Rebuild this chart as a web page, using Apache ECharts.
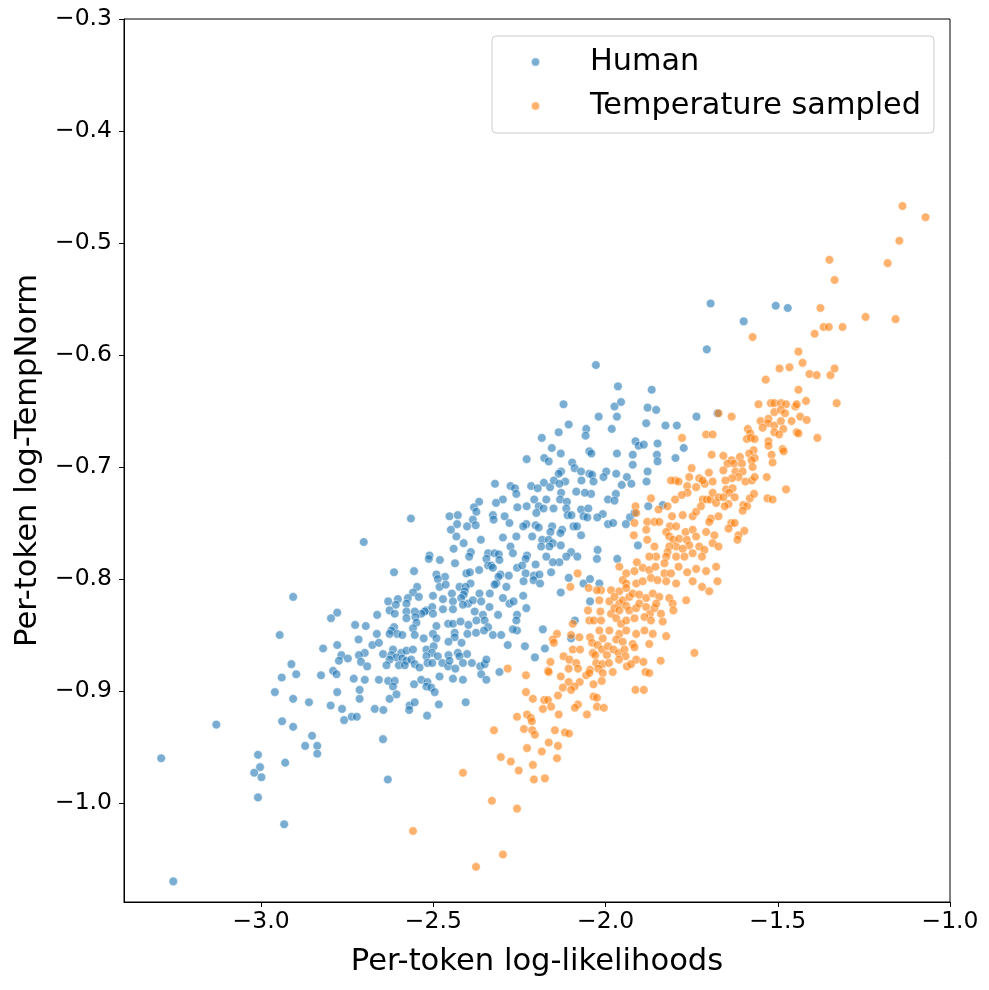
<!DOCTYPE html>
<html>
<head>
<meta charset="utf-8">
<script src="https://cdn.jsdelivr.net/npm/echarts@6/dist/echarts.min.js"></script>
<style>
html,body{margin:0;padding:0;background:#fff;}
#chart{width:989px;height:990px;}
</style>
</head>
<body>
<div id="chart"></div>
<script>
var seriesNames = ['Human', 'Temperature sampled'];
var xTicks = [-3.0, -2.5, -2.0, -1.5, -1.0];
var yTicks = [-1.0, -0.9, -0.8, -0.7, -0.6, -0.5, -0.4, -0.3];
var xLabel = 'Per-token log-likelihoods';
var yLabel = 'Per-token log-TempNorm';

var humanPoints = [
[-2.321,-0.715],[-2.276,-0.717],[-2.263,-0.719],[-2.259,-0.724],[-2.298,-0.729],[-2.318,-0.732],[-2.367,-0.731],[-2.382,-0.736],[-2.375,-0.740],[-2.256,-0.736],[-2.327,-0.743],[-2.293,-0.744],[-2.453,-0.744],[-2.429,-0.743],[-2.565,-0.746],[-2.385,-0.747],[-2.325,-0.747],[-2.431,-0.751],[-2.402,-0.753],[-2.377,-0.752],[-2.279,-0.750],[-2.449,-0.756],[-2.433,-0.762],[-2.362,-0.765],[-2.298,-0.763],[-2.259,-0.762],[-2.702,-0.767],[-2.412,-0.768],[-2.276,-0.771],[-2.441,-0.773],[-2.391,-0.776],[-2.341,-0.777],[-2.322,-0.777],[-2.310,-0.778],[-2.269,-0.777],[-2.511,-0.779],[-2.513,-0.782],[-2.481,-0.783],[-2.396,-0.780],[-2.308,-0.783],[-2.346,-0.782],[-2.437,-0.786],[-2.341,-0.788],[-2.332,-0.788],[-2.327,-0.790],[-2.367,-0.792],[-2.257,-0.790],[-2.556,-0.793],[-2.614,-0.794],[-2.491,-0.796],[-2.404,-0.795],[-2.394,-0.794],[-2.305,-0.796],[-2.311,-0.798],[-2.281,-0.797],[-2.466,-0.798],[-2.487,-0.800],[-2.482,-0.807],[-2.464,-0.805],[-2.424,-0.807],[-2.392,-0.804],[-2.406,-0.807],[-2.317,-0.804],[-2.288,-0.807],[-2.547,-0.807],[-2.322,-0.805],[-2.559,-0.812],[-2.542,-0.816],[-2.501,-0.815],[-2.446,-0.813],[-2.409,-0.811],[-2.412,-0.814],[-2.366,-0.813],[-2.336,-0.813],[-2.472,-0.818],[-2.443,-0.820],[-2.419,-0.817],[-2.399,-0.822],[-2.385,-0.819],[-2.361,-0.820],[-2.298,-0.817],[-2.279,-0.822],[-2.267,-0.820],[-2.574,-0.817],[-2.603,-0.818],[-2.631,-0.820],[-2.907,-0.816],[-2.609,-0.823],[-2.578,-0.822],[-2.520,-0.828],[-2.503,-0.825],[-2.525,-0.829],[-2.535,-0.831],[-2.501,-0.831],[-2.627,-0.828],[-2.578,-0.829],[-2.554,-0.829],[-2.612,-0.831],[-2.472,-0.827],[-2.443,-0.827],[-2.414,-0.823],[-2.380,-0.829],[-2.356,-0.832],[-2.337,-0.825],[-2.312,-0.832],[-2.779,-0.830],[-2.797,-0.835],[-2.663,-0.832],[-2.257,-0.832],[-2.578,-0.835],[-2.552,-0.834],[-2.549,-0.839],[-2.559,-0.844],[-2.491,-0.842],[-2.457,-0.840],[-2.443,-0.840],[-2.421,-0.838],[-2.398,-0.841],[-2.375,-0.837],[-2.351,-0.837],[-2.341,-0.843],[-2.259,-0.837],[-2.257,-0.846],[-2.269,-0.845],[-2.727,-0.841],[-2.696,-0.842],[-2.614,-0.843],[-2.622,-0.846],[-2.946,-0.850],[-2.664,-0.849],[-2.605,-0.849],[-2.590,-0.850],[-2.627,-0.849],[-2.554,-0.850],[-2.528,-0.853],[-2.501,-0.849],[-2.491,-0.853],[-2.438,-0.848],[-2.438,-0.852],[-2.401,-0.849],[-2.376,-0.848],[-2.353,-0.846],[-2.327,-0.850],[-2.303,-0.850],[-2.456,-0.856],[-2.418,-0.857],[-2.717,-0.854],[-2.677,-0.859],[-2.658,-0.857],[-2.284,-0.859],[-2.779,-0.859],[-2.820,-0.862],[-2.617,-0.863],[-2.593,-0.866],[-2.578,-0.864],[-2.559,-0.863],[-2.520,-0.863],[-2.499,-0.860],[-2.504,-0.866],[-2.520,-0.869],[-2.487,-0.869],[-2.456,-0.868],[-2.429,-0.866],[-2.402,-0.867],[-2.767,-0.868],[-2.699,-0.866],[-2.716,-0.868],[-2.646,-0.867],[-2.622,-0.868],[-2.607,-0.870],[-2.627,-0.872],[-2.590,-0.871],[-2.578,-0.873],[-2.564,-0.872],[-2.774,-0.873],[-2.748,-0.871],[-2.710,-0.874],[-2.692,-0.878],[-2.636,-0.877],[-2.600,-0.877],[-2.583,-0.877],[-2.554,-0.876],[-2.540,-0.879],[-2.517,-0.875],[-2.503,-0.875],[-2.474,-0.875],[-2.457,-0.878],[-2.436,-0.880],[-2.453,-0.873],[-2.424,-0.869],[-2.414,-0.875],[-2.388,-0.875],[-2.364,-0.878],[-2.351,-0.876],[-2.346,-0.872],[-2.308,-0.883],[-2.912,-0.876],[-2.791,-0.882],[-2.781,-0.885],[-2.898,-0.885],[-2.940,-0.888],[-2.826,-0.886],[-2.731,-0.889],[-2.699,-0.890],[-2.658,-0.890],[-2.631,-0.891],[-2.612,-0.891],[-2.617,-0.896],[-2.556,-0.894],[-2.535,-0.890],[-2.517,-0.892],[-2.520,-0.896],[-2.506,-0.897],[-2.482,-0.887],[-2.443,-0.889],[-2.414,-0.890],[-2.361,-0.885],[-2.346,-0.890],[-2.714,-0.899],[-2.779,-0.901],[-2.907,-0.907],[-2.861,-0.910],[-2.798,-0.913],[-2.714,-0.907],[-2.627,-0.907],[-2.607,-0.903],[-2.569,-0.913],[-2.554,-0.910],[-2.496,-0.901],[-2.484,-0.912],[-2.406,-0.910],[-2.765,-0.916],[-2.670,-0.916],[-2.645,-0.917],[-2.570,-0.917],
[-2.759,-0.926],[-2.737,-0.923],[-2.722,-0.923],[-2.646,-0.943],[-2.632,-0.979],[-3.130,-0.930],[-3.290,-0.960],[-3.009,-0.957],[-3.003,-0.968],[-3.020,-0.973],[-2.999,-0.977],[-2.930,-0.964],[-2.939,-0.927],[-2.907,-0.932],[-2.852,-0.940],[-2.872,-0.949],[-2.837,-0.949],[-2.837,-0.956],[-3.009,-0.995],[-2.933,-1.019],[-3.255,-1.070],[-2.960,-0.901],
[-2.122,-0.644],[-1.974,-0.646],[-1.955,-0.642],[-1.878,-0.647],[-1.853,-0.649],[-2.020,-0.655],[-1.967,-0.655],[-2.107,-0.662],[-2.136,-0.669],[-2.056,-0.666],[-2.058,-0.672],[-1.982,-0.666],[-1.882,-0.661],[-1.826,-0.663],[-1.793,-0.663],[-1.736,-0.655],[-2.185,-0.674],[-1.913,-0.677],[-1.904,-0.681],[-1.889,-0.680],[-1.849,-0.679],[-1.773,-0.683],[-2.156,-0.683],[-2.047,-0.686],[-2.041,-0.688],[-2.130,-0.688],[-1.967,-0.688],[-1.851,-0.689],[-1.797,-0.692],[-1.921,-0.689],[-2.229,-0.693],[-2.178,-0.692],[-2.165,-0.695],[-2.097,-0.696],[-1.921,-0.698],[-1.849,-0.695],[-2.090,-0.701],[-2.071,-0.704],[-2.129,-0.704],[-2.136,-0.706],[-2.047,-0.706],[-2.039,-0.707],[-1.998,-0.704],[-1.969,-0.706],[-1.938,-0.709],[-1.878,-0.704],[-2.006,-0.709],[-1.881,-0.713],[-2.179,-0.714],[-2.216,-0.717],[-2.197,-0.719],[-2.161,-0.718],[-2.150,-0.712],[-2.117,-0.713],[-2.134,-0.715],[-2.070,-0.712],[-2.035,-0.713],[-1.953,-0.716],[-1.925,-0.715],[-2.042,-0.724],[-2.085,-0.722],[-2.060,-0.723],[-2.129,-0.723],[-1.970,-0.724],[-1.993,-0.729],[-1.974,-0.730],[-2.207,-0.729],[-2.172,-0.729],[-2.151,-0.737],[-2.132,-0.729],[-2.112,-0.731],[-2.194,-0.735],[-2.229,-0.735],[-2.201,-0.741],[-2.180,-0.737],[-2.114,-0.737],[-2.110,-0.743],[-2.099,-0.743],[-2.071,-0.738],[-2.050,-0.737],[-2.008,-0.742],[-2.024,-0.745],[-2.064,-0.744],[-2.053,-0.745],[-1.929,-0.745],[-1.916,-0.741],[-1.876,-0.735],[-1.834,-0.734],[-2.230,-0.751],[-2.239,-0.753],[-2.203,-0.752],[-2.194,-0.754],[-2.155,-0.753],[-2.160,-0.758],[-2.126,-0.756],[-2.131,-0.759],[-2.093,-0.753],[-2.083,-0.753],[-2.071,-0.761],[-1.993,-0.751],[-1.978,-0.750],[-1.941,-0.751],[-2.213,-0.762],[-2.184,-0.765],[-2.165,-0.765],[-2.153,-0.768],[-2.130,-0.770],[-2.187,-0.771],[-2.163,-0.771],[-2.100,-0.776],[-2.114,-0.780],[-2.134,-0.785],[-2.082,-0.780],[-2.172,-0.780],[-2.203,-0.787],[-2.228,-0.779],[-2.232,-0.782],[-2.023,-0.774],[-2.025,-0.782],[-1.966,-0.782],[-1.906,-0.770],[-2.153,-0.785],[-2.242,-0.788],[-2.232,-0.795],[-2.208,-0.797],[-2.192,-0.796],[-2.209,-0.801],[-2.190,-0.804],[-2.158,-0.794],[-2.107,-0.799],[-2.064,-0.804],[-2.045,-0.800],[-2.018,-0.804],[-2.238,-0.802],[-2.130,-0.812],[-2.239,-0.815],[-2.230,-0.826],[-2.045,-0.820],[-2.089,-0.837],[-2.182,-0.845],[-2.100,-0.853],[-1.675,-0.652],
[-2.234,-0.860],[-2.205,-0.870],[-2.176,-0.862],[-2.518,-0.922],
[-1.695,-0.554],[-1.506,-0.556],[-1.471,-0.558],[-1.599,-0.570],[-1.706,-0.595],[-2.028,-0.609],[-1.964,-0.628],[-1.866,-0.631]
];

var sampledPoints = [
[-2.284,-0.880],[-2.559,-1.025],
[-1.672,-0.652],[-1.708,-0.671],[-1.689,-0.671],[-1.778,-0.674],[-1.692,-0.689],[-1.750,-0.701],[-1.700,-0.705],[-1.797,-0.712],[-1.810,-0.712],[-1.788,-0.713],[-1.757,-0.709],[-1.728,-0.710],[-1.712,-0.715],[-1.718,-0.712],[-1.689,-0.713],[-1.763,-0.717],[-1.737,-0.718],[-1.762,-0.723],[-1.779,-0.725],[-1.798,-0.729],[-1.718,-0.729],[-1.706,-0.729],[-1.696,-0.729],[-1.689,-0.723],[-1.679,-0.732],[-1.672,-0.727],[-1.868,-0.728],[-1.913,-0.735],[-1.820,-0.735],[-1.846,-0.738],[-1.807,-0.744],[-1.776,-0.743],[-1.747,-0.744],[-1.737,-0.740],[-1.723,-0.735],[-1.694,-0.746],[-1.699,-0.749],[-1.672,-0.744],[-1.911,-0.741],[-1.916,-0.750],[-1.879,-0.749],[-1.858,-0.749],[-1.882,-0.756],[-1.844,-0.749],[-1.813,-0.753],[-1.795,-0.753],[-1.824,-0.758],[-1.768,-0.758],[-1.747,-0.756],[-1.737,-0.762],[-1.708,-0.758],[-1.684,-0.761],[-1.918,-0.761],[-1.815,-0.762],[-1.803,-0.765],[-1.786,-0.764],[-1.764,-0.765],[-1.757,-0.770],[-1.795,-0.771],[-1.776,-0.773],[-1.815,-0.771],[-1.820,-0.776],[-1.858,-0.771],[-1.879,-0.765],[-1.824,-0.780],[-1.795,-0.780],[-1.771,-0.780],[-1.747,-0.777],[-1.728,-0.771],[-1.713,-0.774],[-1.689,-0.768],[-1.672,-0.771],[-1.720,-0.780],[-1.853,-0.780],[-1.829,-0.786],[-1.873,-0.780],[-1.909,-0.785],[-1.960,-0.789],[-1.940,-0.795],[-1.916,-0.793],[-1.892,-0.790],[-1.873,-0.792],[-1.855,-0.789],[-1.829,-0.795],[-1.810,-0.795],[-1.788,-0.789],[-1.763,-0.794],[-1.737,-0.791],[-1.708,-0.793],[-1.679,-0.789],[-2.081,-0.795],[-2.102,-0.807],[-2.049,-0.808],[-2.013,-0.810],[-1.984,-0.810],[-1.950,-0.801],[-1.940,-0.804],[-1.960,-0.811],[-1.940,-0.808],[-1.911,-0.804],[-1.892,-0.802],[-1.868,-0.799],[-1.849,-0.801],[-1.824,-0.802],[-1.795,-0.804],[-1.747,-0.802],[-1.720,-0.807],[-1.699,-0.811],[-1.675,-0.802],[-2.025,-0.810],[-2.018,-0.819],[-1.989,-0.820],[-1.974,-0.816],[-1.960,-0.822],[-1.950,-0.819],[-1.931,-0.816],[-1.921,-0.813],[-1.902,-0.814],[-1.882,-0.817],[-1.863,-0.813],[-1.844,-0.816],[-1.815,-0.817],[-1.805,-0.822],[-1.766,-0.819],[-2.051,-0.828],[-2.015,-0.829],[-1.984,-0.831],[-1.974,-0.826],[-1.960,-0.828],[-1.940,-0.824],[-1.931,-0.828],[-1.911,-0.826],[-1.902,-0.822],[-1.882,-0.825],[-1.871,-0.831],[-1.858,-0.826],[-1.839,-0.831],[-1.853,-0.822],[-1.803,-0.828],[-2.047,-0.837],[-2.034,-0.837],[-2.013,-0.837],[-1.969,-0.835],[-1.955,-0.840],[-1.940,-0.837],[-1.916,-0.835],[-1.887,-0.834],[-1.868,-0.837],[-1.834,-0.838],[-2.095,-0.840],[-2.141,-0.849],[-2.100,-0.850],[-2.076,-0.852],[-2.045,-0.852],[-2.018,-0.846],[-1.989,-0.846],[-1.960,-0.849],[-1.940,-0.846],[-1.911,-0.849],[-1.887,-0.846],[-1.863,-0.849],[-1.824,-0.851],[-2.153,-0.854],[-2.008,-0.853],[-1.969,-0.854],
[-2.150,-0.857],[-2.095,-0.863],[-2.074,-0.863],[-2.122,-0.869],[-2.105,-0.872],[-2.085,-0.875],[-2.160,-0.874],[-2.167,-0.882],[-2.165,-0.883],[-2.107,-0.880],[-2.080,-0.880],[-2.130,-0.887],[-2.231,-0.886],[-2.039,-0.857],[-2.023,-0.859],[-2.010,-0.863],[-1.993,-0.860],[-1.977,-0.863],[-1.950,-0.856],[-1.921,-0.858],[-1.916,-0.861],[-1.873,-0.858],[-2.037,-0.866],[-2.030,-0.868],[-1.996,-0.868],[-1.962,-0.866],[-1.945,-0.863],[-1.942,-0.869],[-1.961,-0.872],[-1.911,-0.872],[-1.890,-0.874],[-1.840,-0.873],[-1.742,-0.866],[-2.027,-0.875],[-2.009,-0.876],[-1.990,-0.875],[-1.938,-0.878],[-1.926,-0.876],[-2.045,-0.881],[-2.021,-0.880],[-2.056,-0.886],[-2.047,-0.884],[-2.008,-0.884],[-1.979,-0.883],[-1.884,-0.883],[-1.873,-0.884],[-2.011,-0.891],[-2.035,-0.894],[-2.075,-0.892],[-2.107,-0.892],[-2.090,-0.896],[-2.124,-0.897],[-2.100,-0.899],[-1.913,-0.899],[-1.889,-0.899],[-2.231,-0.901],[-2.138,-0.904],[-2.211,-0.907],[-2.178,-0.908],[-2.167,-0.908],[-2.158,-0.914],[-2.182,-0.916],[-2.080,-0.912],[-2.089,-0.915],[-2.035,-0.905],[-2.025,-0.906],[-2.025,-0.914],[-2.005,-0.915],[-2.054,-0.921],[-2.136,-0.921],[-2.257,-0.923],[-2.228,-0.921],[-2.217,-0.924],[-2.214,-0.927],[-2.324,-0.935],[-2.237,-0.934],[-2.213,-0.935],[-2.205,-0.939],[-2.147,-0.935],[-2.118,-0.937],[-2.106,-0.938],[-2.165,-0.946],[-2.138,-0.949],[-2.228,-0.951],[-2.185,-0.954],[-2.304,-0.959],[-2.275,-0.963],[-2.141,-0.960],[-2.211,-0.966],[-2.252,-0.971],[-2.414,-0.973],[-2.208,-0.979],[-2.176,-0.978],[-2.330,-0.998],[-2.257,-1.005],[-2.298,-1.046],[-2.376,-1.057],
[-1.556,-0.644],[-1.520,-0.643],[-1.510,-0.643],[-1.491,-0.643],[-1.476,-0.644],[-1.449,-0.646],[-1.445,-0.644],[-1.418,-0.641],[-1.329,-0.643],[-1.634,-0.655],[-1.510,-0.651],[-1.491,-0.649],[-1.479,-0.652],[-1.435,-0.655],[-1.416,-0.658],[-1.550,-0.659],[-1.527,-0.657],[-1.529,-0.661],[-1.544,-0.665],[-1.510,-0.663],[-1.491,-0.659],[-1.460,-0.659],[-1.484,-0.666],[-1.510,-0.669],[-1.496,-0.671],[-1.445,-0.669],[-1.440,-0.670],[-1.587,-0.666],[-1.580,-0.670],[-1.590,-0.675],[-1.578,-0.674],[-1.567,-0.675],[-1.385,-0.674],[-1.527,-0.677],[-1.527,-0.681],[-1.486,-0.684],[-1.483,-0.686],[-1.570,-0.685],[-1.583,-0.688],[-1.518,-0.689],[-1.658,-0.690],[-1.567,-0.692],[-1.576,-0.694],[-1.634,-0.694],[-1.610,-0.691],[-1.646,-0.697],[-1.627,-0.697],[-1.604,-0.697],[-1.515,-0.696],[-1.573,-0.700],[-1.658,-0.703],[-1.623,-0.704],[-1.602,-0.704],[-1.614,-0.709],[-1.633,-0.710],[-1.652,-0.712],[-1.594,-0.713],[-1.575,-0.712],[-1.567,-0.709],[-1.532,-0.709],[-1.476,-0.720],[-1.650,-0.720],[-1.631,-0.719],[-1.641,-0.723],[-1.658,-0.727],[-1.625,-0.727],[-1.581,-0.728],[-1.569,-0.724],[-1.530,-0.728],[-1.515,-0.729],[-1.643,-0.733],[-1.654,-0.735],[-1.600,-0.734],[-1.589,-0.735],[-1.602,-0.739],[-1.635,-0.750],[-1.625,-0.750],[-1.643,-0.755],[-1.597,-0.757],[-1.614,-0.761],[-1.617,-0.765],
[-1.138,-0.467],[-1.071,-0.477],[-1.147,-0.498],[-1.350,-0.515],[-1.181,-0.518],[-1.335,-0.533],[-1.376,-0.558],[-1.245,-0.566],[-1.158,-0.568],[-1.367,-0.575],[-1.352,-0.575],[-1.312,-0.575],[-1.393,-0.581],[-1.573,-0.584],[-1.440,-0.597],[-1.428,-0.607],[-1.495,-0.612],[-1.466,-0.611],[-1.408,-0.617],[-1.387,-0.618],[-1.347,-0.618],[-1.335,-0.612],[-1.535,-0.622],[-1.440,-0.631]
];

var FONT = 'DejaVu Sans';
function fmt(v) { return v.toFixed(1).replace('-', '\u2212'); }

var chart = echarts.init(document.getElementById('chart'), null, { renderer: 'canvas' });
chart.setOption({
  animation: false,
  backgroundColor: '#ffffff',
  grid: {
    left: 124, right: 39, top: 19, bottom: 88,
    show: true, borderColor: '#000', borderWidth: 1, backgroundColor: 'transparent'
  },
  legend: {
    data: seriesNames,
    orient: 'vertical',
    left: 492, top: 36,
    padding: [11, 13, 12, 38],
    itemWidth: 9, itemHeight: 9, itemGap: 14,
    backgroundColor: '#ffffff',
    borderColor: '#cccccc', borderWidth: 1, borderRadius: 4,
    textStyle: { fontFamily: FONT, fontSize: 30.3, color: '#000', padding: [0, 0, 0, 45], lineHeight: 30 },
    selectedMode: false
  },
  xAxis: {
    type: 'value',
    min: -3.398, max: -1.0,
    name: xLabel,
    nameLocation: 'middle',
    nameGap: 45,
    nameTextStyle: { fontFamily: FONT, fontSize: 30.6, color: '#000' },
    axisLine: { show: true, onZero: false, lineStyle: { color: '#000', width: 1 } },
    axisTick: { show: true, inside: false, length: 5, lineStyle: { color: '#000', width: 1 }, customValues: xTicks },
    axisLabel: { fontFamily: FONT, fontSize: 23.5, color: '#000', margin: 8, customValues: xTicks, formatter: fmt },
    splitLine: { show: false }
  },
  yAxis: {
    type: 'value',
    min: -1.0884, max: -0.3,
    name: yLabel,
    nameLocation: 'middle',
    nameRotate: 90,
    nameGap: 79,
    nameTextStyle: { fontFamily: FONT, fontSize: 30.6, color: '#000' },
    axisLine: { show: true, onZero: false, lineStyle: { color: '#000', width: 1 } },
    axisTick: { show: true, inside: false, length: 5, lineStyle: { color: '#000', width: 1 }, customValues: yTicks },
    axisLabel: { fontFamily: FONT, fontSize: 23.5, color: '#000', margin: 12, customValues: yTicks, formatter: fmt },
    splitLine: { show: false }
  },
  series: [
    {
      name: seriesNames[0], type: 'scatter', data: humanPoints,
      symbol: 'circle', symbolSize: 8.6,
      itemStyle: { color: '#1f77b4', opacity: 0.6, borderColor: '#ffffff', borderWidth: 0.8 }
    },
    {
      name: seriesNames[1], type: 'scatter', data: sampledPoints,
      symbol: 'circle', symbolSize: 8.6,
      itemStyle: { color: '#ff7f0e', opacity: 0.6, borderColor: '#ffffff', borderWidth: 0.8 }
    }
  ]
});
</script>
</body>
</html>
